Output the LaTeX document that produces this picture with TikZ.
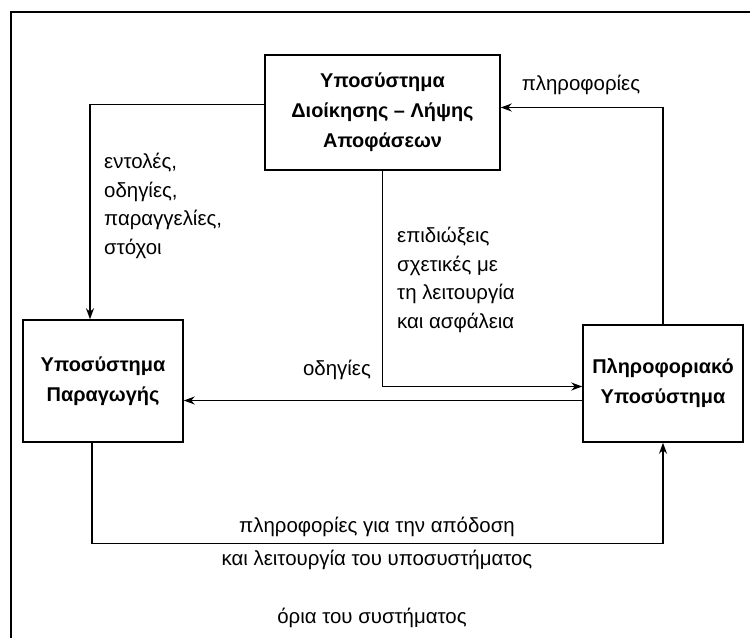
\documentclass[tikz,border=0pt]{standalone}
\usepackage{fontspec}
\setmainfont{Liberation Sans}
\usetikzlibrary{arrows.meta}

\begin{document}
\begin{tikzpicture}[x=1bp, y=-1bp,
every node/.style={inner sep=1pt, font=\fontsize{20.5}{28.5}\selectfont},
box/.style={draw, line width=1.5bp, align=center, minimum width=160bp,
    font=\fontsize{20}{30}\selectfont\bfseries},
lbl/.style={align=left},
flow/.style={line width=1.4bp, -{Stealth[length=11bp,width=8bp]}}
]
\useasboundingbox (0,0) rectangle (750,638);
% frame of the system
\draw[line width=2.4bp] (750,12) -- (11,12) -- (11,638);

\node[box, minimum width=235bp, minimum height=115bp] (dioik) at (382.5,112.5) {Υποσύστημα\\Διοίκησης – Λήψης\\Αποφάσεων};
\node[box, minimum height=122bp] (parag) at (103,381) {Υποσύστημα\\Παραγωγής};
\node[box, minimum height=117bp] (plir) at (663,383.5) {Πληροφοριακό\\Υποσύστημα};

% flows
\draw[flow] ([yshift=8bp]dioik.west) -| ([xshift=-13bp]parag.north);
\draw[flow] (dioik.south) |- ([yshift=-3bp]plir.west);
\draw[flow] ([yshift=-17bp]plir.west) -- ([yshift=-17bp]plir.west -| parag.east);
\draw[flow] (plir.north) |- ([yshift=5bp]dioik.east);
\draw[flow] ([xshift=-11bp]parag.south) -- ++(0,101) -| (plir.south);

% labels
\node[lbl, anchor=west] (entol) at (103,206) {εντολές,\\οδηγίες,\\παραγγελίες,\\στόχοι};
\node[lbl, anchor=west] (epid) at (396,280) {επιδιώξεις\\σχετικές με\\τη λειτουργία\\και ασφάλεια};
\node (odig) at (337,370) {οδηγίες};
\node (plirof) at (581,85) {πληροφορίες};
\node[align=center] (apod) at (377,543.5) {πληροφορίες για την απόδοση\\[5bp]και λειτουργία του υποσυστήματος};
\node (oria) at (372,618) {όρια του συστήματος};
\end{tikzpicture}
\end{document}
